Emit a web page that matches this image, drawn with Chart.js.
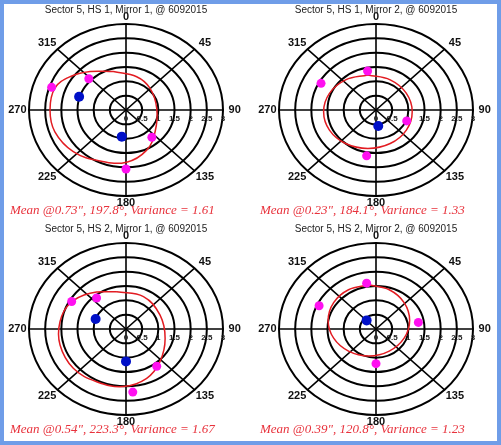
<!DOCTYPE html>
<html>
<head>
<meta charset="utf-8">
<script src="https://cdn.jsdelivr.net/npm/chart.js@4"></script>
<style>
  html, body { margin: 0; padding: 0; background: #fff; }
  body { position: relative; width: 501px; height: 445px; overflow: hidden; }
  canvas { position: absolute; }
  #frame { position: absolute; left: 0; top: 0; width: 501px; height: 445px; box-sizing: border-box;
           border: 4px solid #6f9de8; pointer-events: none; }
</style>
</head>
<body>
<canvas id="c1" width="250" height="219" style="left:0;top:0"></canvas>
<canvas id="c2" width="251" height="219" style="left:250px;top:0"></canvas>
<canvas id="c3" width="250" height="226" style="left:0;top:219px"></canvas>
<canvas id="c4" width="251" height="226" style="left:250px;top:219px"></canvas>
<div id="frame"></div>
<script>
// tick labels
const ringTicks = [0.5, 1, 1.5, 2, 2.5, 3];
const ringLabels = ['0', '0.5', '1', '1.5', '2', '2.5', '3'];
const angleTicks = [0, 45, 90, 135, 180, 225, 270, 315];

const titles = [
  'Sector 5, HS 1, Mirror 1, @ 6092015',
  'Sector 5, HS 1, Mirror 2, @ 6092015',
  'Sector 5, HS 2, Mirror 1, @ 6092015',
  'Sector 5, HS 2, Mirror 2, @ 6092015'
];
const meanTexts = [
  'Mean @0.73", 197.8°, Variance = 1.61',
  'Mean @0.23", 184.1°, Variance = 1.33',
  'Mean @0.54", 223.3°, Variance = 1.67',
  'Mean @0.39", 120.8°, Variance = 1.23'
];

// points as [east, north] offsets
const p1Magenta = [[-2.30, 0.79], [-1.15, 1.09], [0.80, -0.95], [0.00, -2.06]];
const p1Blue = [[-1.45, 0.46], [-0.13, -0.93]];
const p1Fit = [[-0.39, 1.34], [0.33, 1.16], [0.74, 0.76], [0.95, 0.06], [0.90, -0.76], [0.64, -1.40],
  [0.02, -1.82], [-0.80, -1.78], [-1.63, -1.45], [-2.20, -0.76], [-2.35, 0.00], [-2.20, 0.76],
  [-1.73, 1.16], [-1.11, 1.34]];

const p2Magenta = [[-1.70, 0.93], [-0.26, 1.36], [0.95, -0.38], [-0.29, -1.60]];
const p2Blue = [[0.07, -0.56]];
const p2Fit = [[-0.25, 1.22], [0.44, 1.05], [0.94, 0.58], [1.12, -0.06], [0.94, -0.70], [0.44, -1.17],
  [-0.25, -1.34], [-0.94, -1.17], [-1.44, -0.70], [-1.62, -0.06], [-1.44, 0.58], [-0.94, 1.05]];

const p3Magenta = [[-1.68, 0.96], [-0.91, 1.08], [0.95, -1.30], [0.21, -2.20]];
const p3Blue = [[-0.94, 0.35], [0.00, -1.13]];
const p3Fit = [[-0.29, 1.30], [0.54, 1.13], [1.05, 0.49], [1.21, -0.33], [1.05, -1.14], [0.64, -1.72],
  [-0.08, -2.01], [-0.91, -1.84], [-1.63, -1.37], [-2.04, -0.56], [-2.04, 0.26], [-1.73, 0.90],
  [-1.11, 1.25]];

const p4Magenta = [[-1.76, 0.81], [-0.29, 1.60], [1.31, 0.23], [0.00, -1.21]];
const p4Blue = [[-0.29, 0.30]];
const p4Fit = [[-0.22, 1.54], [0.41, 1.37], [0.87, 0.92], [1.04, 0.30], [0.87, -0.32], [0.41, -0.77],
  [-0.22, -0.94], [-0.85, -0.77], [-1.31, -0.32], [-1.48, 0.30], [-1.31, 0.92], [-0.85, 1.37]];

const toXY = arr => arr.map(p => ({ x: p[0], y: p[1] }));
const closeLoop = arr => toXY(arr.concat([arr[0]]));

// grid rings, spokes, labels
const polarDecor = {
  id: 'polarDecor',
  beforeDatasetsDraw(chart) {
    const { ctx } = chart;
    const x = chart.scales.x, y = chart.scales.y;
    const cx = x.getPixelForValue(0), cy = y.getPixelForValue(0);
    const rx = r => x.getPixelForValue(r) - cx;
    const ry = r => cy - y.getPixelForValue(r);
    const outer = ringTicks[ringTicks.length - 1];
    ctx.save();
    ctx.strokeStyle = '#000';
    ctx.lineWidth = 2;
    ringTicks.forEach(r => {
      ctx.beginPath();
      ctx.ellipse(cx, cy, rx(r), ry(r), 0, 0, Math.PI * 2);
      ctx.stroke();
    });
    ctx.lineWidth = 1.6;
    angleTicks.forEach(a => {
      const t = a * Math.PI / 180;
      ctx.beginPath();
      ctx.moveTo(cx, cy);
      ctx.lineTo(cx + rx(outer) * Math.sin(t), cy - ry(outer) * Math.cos(t));
      ctx.stroke();
    });
    // angle labels
    ctx.fillStyle = '#111';
    ctx.font = 'bold 11px "Liberation Sans", Arial, sans-serif';
    ctx.textAlign = 'center';
    ctx.textBaseline = 'middle';
    angleTicks.forEach(a => {
      const t = a * Math.PI / 180;
      const diag = a % 90 !== 0;
      const kx = diag ? 1.15 : 1.12, ky = diag ? 1.10 : 1.08;
      ctx.fillText(String(a), cx + rx(outer) * kx * Math.sin(t), cy - ry(outer) * ky * Math.cos(t));
    });
    // ring labels
    ctx.font = 'bold 8px "Liberation Sans", Arial, sans-serif';
    ctx.fillStyle = '#222';
    [0].concat(ringTicks).forEach((r, i) => {
      ctx.fillText(ringLabels[i], cx + rx(r), cy + 9);
    });
    ctx.restore();
  },
  afterDraw(chart, args, opts) {
    const { ctx } = chart;
    const x = chart.scales.x;
    const cx = x.getPixelForValue(0);
    ctx.save();
    ctx.textAlign = 'center';
    ctx.textBaseline = 'middle';
    ctx.fillStyle = '#222';
    ctx.font = '10px "Liberation Sans", Arial, sans-serif';
    ctx.fillText(opts.title, cx, 10);
    ctx.fillStyle = '#e8323c';
    ctx.font = 'italic 13px "Liberation Serif", "Times New Roman", serif';
    ctx.textAlign = 'left';
    ctx.fillText(opts.mean, 10, 211);
    ctx.restore();
  }
};

function makeChart(id, idx, magenta, blue, fit, padRight, padBottom) {
  new Chart(document.getElementById(id), {
    type: 'scatter',
    data: {
      datasets: [
        { data: toXY(blue), pointRadius: 5, pointBackgroundColor: '#0010c8', pointBorderWidth: 0, order: 0 },
        { data: toXY(magenta), pointRadius: 4.5, pointBackgroundColor: '#ff10f0', pointBorderWidth: 0, order: 1 },
        { data: closeLoop(fit), showLine: true, pointRadius: 0, borderColor: '#e21c22', borderWidth: 1.5,
          tension: 0.4, order: 2 }
      ]
    },
    options: {
      responsive: false,
      animation: false,
      layout: { padding: { left: 29, right: padRight, top: 24, bottom: padBottom } },
      scales: {
        x: { min: -3, max: 3, display: false },
        y: { min: -3, max: 3, display: false }
      },
      plugins: {
        legend: { display: false },
        tooltip: { enabled: false },
        polarDecor: { title: titles[idx], mean: meanTexts[idx] }
      }
    },
    plugins: [polarDecor]
  });
}

makeChart('c1', 0, p1Magenta, p1Blue, p1Fit, 27, 23);
makeChart('c2', 1, p2Magenta, p2Blue, p2Fit, 28, 23);
makeChart('c3', 2, p3Magenta, p3Blue, p3Fit, 27, 30);
makeChart('c4', 3, p4Magenta, p4Blue, p4Fit, 28, 30);
</script>
</body>
</html>
